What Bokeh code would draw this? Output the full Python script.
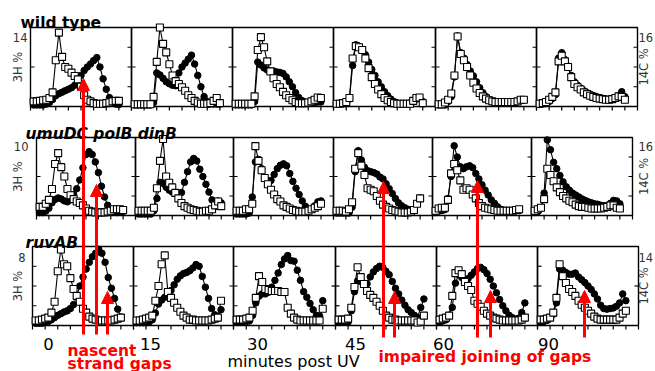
import math
from bokeh.plotting import figure
from bokeh.models import Range1d, Label, Arrow, NormalHead
from bokeh.embed import file_html
from bokeh.resources import INLINE

# ---------------- data ----------------
fractions = list(range(1, 29))
frac_ticks = list(range(0, 33, 4))
times = ["0", "15", "30", "45", "60", "90"]
strains = ["wild type", "umuDC polB dinB", "ruvAB"]
h3_max = [14, 10, 8]
c14_max = [16, 16, 14]
h3_ticks = [[7], [5], [2, 4, 6]]
c14_ticks = [[4, 8, 12], [4, 8, 12], [7]]

# wild type: 3H % (open squares) and 14C % (filled circles)
wt_h3_0 = [0.9, 0.9, 1.0, 1.1, 1.2, 1.5, 2.5, 8.2, 13.1, 8.8, 7.0, 6.7, 6.0, 5.4, 4.8, 3.5, 2.0, 1.2, 0.9, 0.6, 0.5, 0.5, 0.5, 0.6, 0.7, 0.9, 1.0, 1.0]
wt_c14_0 = [0.3, 0.3, 0.3, 0.3, 0.5, 0.8, 1.4, 2.2, 2.6, 2.9, 3.2, 3.5, 3.8, 4.3, 4.9, 6.3, 7.3, 8.0, 8.6, 9.3, 9.9, 8.0, 5.6, 3.5, 1.8, 0.9, 0.5, 0.4]
wt_h3_15 = [0.4, 0.4, 0.4, 0.4, 0.4, 0.4, 1.7, 7.9, 14.0, 11.1, 9.6, 7.5, 5.5, 4.5, 4.0, 3.4, 2.8, 2.0, 1.5, 1.0, 0.7, 0.5, 0.5, 0.5, 0.6, 1.0, 1.5, 0.6]
wt_c14_15 = [0.3, 0.3, 0.3, 0.3, 0.3, 0.3, 0.8, 6.8, 6.4, 5.7, 5.0, 4.6, 4.3, 4.2, 6.8, 8.0, 8.8, 9.6, 10.4, 8.6, 6.3, 4.0, 2.0, 1.0, 0.6, 0.5, 0.5, 0.5]
wt_h3_30 = [0.5, 0.5, 0.5, 0.5, 0.5, 0.5, 1.8, 10.0, 12.3, 10.5, 8.0, 6.2, 5.0, 4.0, 3.4, 2.6, 2.0, 1.5, 1.1, 0.8, 0.6, 0.6, 0.6, 0.7, 0.9, 1.2, 1.6, 1.5]
wt_c14_30 = [0.3, 0.3, 0.3, 0.3, 0.3, 0.3, 1.0, 9.0, 8.4, 7.8, 7.4, 7.2, 7.2, 7.0, 6.9, 6.7, 6.0, 5.0, 4.0, 2.8, 1.8, 1.2, 0.9, 0.8, 0.8, 0.8, 0.9, 0.9]
wt_h3_45 = [0.5, 0.5, 0.6, 0.8, 1.5, 8.5, 10.7, 10.5, 10.0, 8.5, 6.8, 5.2, 4.0, 3.0, 2.2, 1.5, 1.1, 0.8, 0.6, 0.5, 0.5, 0.5, 0.5, 0.5, 1.0, 1.5, 1.6, 0.6]
wt_c14_45 = [0.5, 0.5, 0.6, 0.8, 1.5, 8.3, 12.5, 12.2, 11.5, 10.5, 9.0, 7.5, 6.3, 5.0, 4.0, 3.0, 2.2, 1.5, 1.0, 0.7, 0.6, 0.6, 0.6, 0.7, 1.0, 1.5, 1.8, 1.0]
wt_h3_60 = [0.4, 0.4, 0.7, 1.2, 2.3, 5.5, 12.4, 9.3, 8.2, 7.0, 5.5, 4.2, 3.2, 2.4, 1.8, 1.4, 1.1, 0.9, 0.8, 0.8, 0.8, 0.8, 0.8, 0.8, 0.8, 0.9, 1.2, 1.2]
wt_c14_60 = [0.3, 0.3, 0.3, 1.0, 2.0, 6.0, 14.3, 10.9, 9.8, 8.5, 7.2, 6.2, 5.0, 3.8, 2.8, 2.0, 1.4, 1.0, 0.8, 0.7, 0.7, 0.7, 0.7, 0.7, 0.8, 1.0, 1.2, 1.3]
wt_h3_90 = [0.5, 0.6, 0.8, 1.2, 1.7, 2.5, 8.0, 9.0, 8.0, 7.0, 5.2, 4.0, 3.4, 3.0, 2.5, 2.2, 1.9, 1.7, 1.5, 1.4, 1.3, 1.2, 1.2, 1.3, 1.5, 1.8, 1.7, 1.2]
wt_c14_90 = [0.4, 0.6, 0.8, 1.0, 1.6, 2.4, 9.8, 10.9, 9.5, 8.2, 6.3, 5.0, 4.3, 3.7, 3.2, 2.8, 2.5, 2.2, 2.0, 1.8, 1.6, 1.5, 1.5, 1.6, 1.8, 2.2, 3.0, 2.0]

# umuDC polB dinB
umu_h3_0 = [1.1, 1.1, 1.5, 2.0, 3.4, 6.6, 8.0, 6.2, 5.0, 3.4, 2.6, 2.1, 1.8, 1.6, 1.3, 0.9, 0.6, 0.5, 0.4, 0.4, 0.4, 0.4, 0.5, 0.6, 0.8, 0.8, 0.8, 0.7]
umu_c14_0 = [0.6, 0.6, 0.9, 1.5, 2.6, 3.3, 3.6, 3.4, 3.0, 2.8, 3.3, 4.3, 5.5, 7.3, 9.8, 12.5, 13.1, 12.5, 11.0, 8.8, 6.0, 3.8, 2.1, 1.1, 0.7, 0.6, 0.8, 0.8]
umu_h3_15 = [0.6, 0.6, 0.6, 0.6, 0.6, 1.0, 3.5, 7.0, 9.8, 5.0, 4.2, 3.6, 2.9, 2.2, 1.6, 1.2, 1.0, 0.8, 0.7, 0.6, 0.5, 0.5, 0.6, 0.6, 0.8, 1.3, 1.8, 1.2]
umu_c14_15 = [0.3, 0.3, 0.3, 0.3, 0.3, 1.0, 3.5, 6.8, 6.6, 5.8, 5.2, 4.8, 4.5, 4.3, 4.7, 6.8, 9.0, 11.0, 11.7, 11.2, 9.5, 8.0, 6.4, 4.8, 3.2, 1.8, 3.0, 2.6]
umu_h3_30 = [0.6, 0.6, 0.6, 0.8, 0.8, 1.5, 8.9, 7.0, 5.8, 4.8, 4.0, 3.3, 2.7, 2.1, 1.8, 1.3, 1.1, 0.9, 0.7, 0.6, 0.5, 0.5, 0.5, 0.6, 0.8, 1.0, 1.2, 1.5]
umu_c14_30 = [0.3, 0.3, 0.3, 0.3, 0.5, 3.8, 11.0, 11.5, 9.6, 7.8, 6.8, 7.2, 8.4, 9.6, 10.3, 10.6, 10.2, 8.6, 7.0, 5.6, 4.3, 3.0, 1.9, 1.1, 1.3, 2.0, 2.8, 3.0]
umu_h3_45 = [0.6, 0.6, 0.6, 0.5, 0.8, 1.7, 6.0, 8.0, 6.4, 5.2, 3.5, 3.3, 3.1, 2.5, 1.9, 1.4, 1.1, 0.9, 0.7, 0.6, 0.5, 0.4, 0.4, 0.4, 0.5, 0.7, 1.5, 2.2]
umu_c14_45 = [0.5, 0.5, 0.5, 0.5, 0.5, 1.7, 9.0, 13.3, 11.4, 9.9, 9.2, 9.0, 8.8, 8.5, 7.9, 7.5, 6.5, 5.5, 4.5, 3.5, 2.6, 2.0, 1.6, 1.3, 1.1, 1.1, 2.5, 3.6]
umu_h3_60 = [0.6, 0.9, 1.0, 1.0, 2.0, 5.4, 6.6, 5.8, 4.5, 3.3, 3.5, 3.3, 2.7, 2.2, 1.6, 1.2, 1.0, 0.9, 0.8, 0.7, 0.6, 0.6, 0.6, 0.6, 0.6, 0.6, 0.7, 0.8]
umu_c14_60 = [0.6, 0.9, 1.0, 1.2, 3.5, 8.0, 14.3, 12.0, 10.0, 9.6, 10.0, 10.2, 9.8, 8.6, 7.5, 6.3, 5.2, 4.2, 3.2, 2.5, 1.8, 1.3, 1.1, 1.0, 1.0, 1.0, 1.0, 1.0]
umu_h3_90 = [0.6, 0.8, 1.0, 2.1, 6.0, 5.2, 4.4, 3.6, 3.0, 2.5, 2.2, 1.9, 1.7, 1.4, 1.2, 1.1, 1.1, 1.0, 0.9, 0.9, 0.9, 0.9, 1.0, 1.1, 1.3, 1.3, 1.0, 0.9]
umu_c14_90 = [0.6, 0.8, 1.5, 4.6, 15.5, 13.5, 10.9, 9.6, 8.2, 6.9, 5.9, 5.2, 4.6, 4.2, 3.8, 3.4, 3.1, 2.8, 2.6, 2.4, 2.3, 2.1, 2.0, 2.0, 2.5, 3.1, 3.0, 2.4]

# ruvAB
ruv_h3_0 = [0.5, 0.5, 0.6, 0.7, 0.8, 1.3, 2.4, 5.5, 7.7, 6.2, 6.0, 4.8, 3.7, 3.0, 2.4, 1.7, 1.3, 0.9, 0.7, 0.6, 0.5, 0.5, 0.5, 0.5, 0.5, 0.6, 0.7, 0.8]
ruv_c14_0 = [0.4, 0.4, 0.4, 0.5, 0.7, 1.0, 1.4, 1.8, 2.1, 2.4, 2.6, 3.0, 3.7, 5.2, 7.0, 8.6, 10.0, 11.2, 12.2, 12.8, 13.5, 12.8, 11.2, 8.5, 6.6, 4.8, 2.9, 1.5]
ruv_h3_15 = [0.5, 0.5, 0.6, 0.7, 0.8, 1.0, 2.5, 4.0, 6.2, 7.1, 3.4, 2.8, 2.3, 1.8, 1.4, 1.0, 0.8, 0.6, 0.6, 0.5, 0.5, 0.5, 0.5, 0.5, 0.6, 0.7, 0.8, 2.5]
ruv_c14_15 = [0.5, 0.5, 0.5, 0.5, 0.6, 1.0, 2.2, 3.8, 4.5, 5.0, 5.5, 6.2, 7.2, 8.2, 8.8, 9.2, 9.4, 9.7, 10.2, 10.8, 10.5, 8.7, 6.8, 4.8, 3.0, 1.9, 1.3, 2.8]
ruv_h3_30 = [0.6, 0.6, 0.6, 0.7, 0.8, 1.5, 2.8, 5.0, 4.4, 3.7, 3.6, 3.5, 3.5, 3.5, 3.4, 3.4, 1.8, 1.2, 0.8, 0.6, 0.5, 0.5, 0.5, 0.5, 0.5, 0.5, 0.5, 1.7]
ruv_c14_30 = [0.6, 0.6, 0.6, 0.7, 0.8, 1.8, 4.0, 5.2, 5.6, 5.6, 5.9, 6.8, 8.0, 9.3, 10.8, 11.8, 12.4, 11.5, 11.4, 9.8, 8.0, 6.0, 5.0, 3.9, 2.8, 1.8, 1.7, 4.4]
ruv_h3_45 = [0.6, 0.6, 0.6, 0.7, 1.8, 3.9, 5.9, 4.9, 4.2, 3.5, 3.1, 2.8, 2.4, 2.0, 1.5, 1.0, 0.8, 0.6, 0.6, 0.5, 0.5, 0.5, 0.5, 0.5, 0.5, 0.3, 0.4, 1.0]
ruv_c14_45 = [0.6, 0.6, 0.6, 0.6, 2.6, 6.0, 7.9, 7.8, 7.5, 7.4, 8.6, 9.5, 10.1, 10.5, 10.3, 9.6, 9.0, 7.8, 6.6, 5.6, 4.5, 3.6, 2.8, 2.3, 1.8, 1.4, 3.2, 4.7]
ruv_h3_60 = [0.6, 0.7, 0.8, 1.0, 3.0, 5.3, 5.6, 5.2, 4.4, 4.0, 3.6, 2.5, 2.2, 1.9, 1.5, 1.2, 1.0, 0.8, 0.7, 0.6, 0.5, 0.5, 0.5, 0.5, 0.5, 0.5, 0.6, 0.8]
ruv_c14_60 = [0.6, 0.8, 1.0, 1.8, 3.2, 7.5, 9.0, 8.5, 7.9, 8.3, 8.9, 9.5, 10.1, 10.3, 9.9, 9.2, 8.2, 7.0, 5.8, 4.6, 3.5, 2.6, 1.8, 1.4, 1.1, 1.3, 2.3, 4.0]
ruv_h3_90 = [0.6, 0.6, 0.7, 0.8, 1.3, 2.8, 6.2, 5.0, 4.3, 3.7, 3.4, 3.0, 2.5, 2.1, 1.8, 1.5, 1.2, 0.9, 0.7, 0.6, 0.6, 0.6, 0.6, 0.6, 0.6, 0.8, 1.2, 1.5]
ruv_c14_90 = [0.6, 0.7, 0.9, 1.4, 2.0, 4.0, 10.0, 9.8, 9.4, 9.1, 9.1, 9.3, 8.6, 8.1, 7.6, 7.0, 6.4, 5.6, 4.7, 3.6, 3.0, 2.9, 3.0, 3.1, 3.4, 4.0, 5.6, 4.4]

h3_rows = [
    [wt_h3_0, wt_h3_15, wt_h3_30, wt_h3_45, wt_h3_60, wt_h3_90],
    [umu_h3_0, umu_h3_15, umu_h3_30, umu_h3_45, umu_h3_60, umu_h3_90],
    [ruv_h3_0, ruv_h3_15, ruv_h3_30, ruv_h3_45, ruv_h3_60, ruv_h3_90],
]
c14_rows = [
    [wt_c14_0, wt_c14_15, wt_c14_30, wt_c14_45, wt_c14_60, wt_c14_90],
    [umu_c14_0, umu_c14_15, umu_c14_30, umu_c14_45, umu_c14_60, umu_c14_90],
    [ruv_c14_0, ruv_c14_15, ruv_c14_30, ruv_c14_45, ruv_c14_60, ruv_c14_90],
]

# ---------------- layout (page pixels) ----------------
W, H = 655, 371
OFF = 0
row_top = [27, 137, 246]
row_bot = [106, 215, 325]
col_edges = [
    [30, 131, 232, 333, 435, 536, 637],
    [36, 135, 233, 333, 432, 531, 632],
    [32, 133, 233, 335, 436, 537, 638],
]
FR_SPAN = 32.0
FONT = "DejaVu Sans"
RED = "#ff0000"
GREY = "#333333"

p = figure(width=W, height=H, output_backend="svg", toolbar_location=None,
           x_range=Range1d(OFF, OFF + W), y_range=Range1d(OFF + H, OFF),
           min_border=0, background_fill_color="white", border_fill_color="white")
p.axis.visible = False
p.grid.visible = False
p.outline_line_color = None

extra_x = {}
extra_y = {}
for r in range(3):
    y0, y1 = row_top[r], row_bot[r]
    for key, vmax in (("h", h3_max[r]), ("c", c14_max[r])):
        s = (y1 - y0) / vmax
        extra_y[f"{key}{r}"] = Range1d((y1 - (OFF + H)) / s, (y1 - OFF) / s)
    for c in range(6):
        x0, x1 = col_edges[r][c], col_edges[r][c + 1]
        s = (x1 - x0) / FR_SPAN
        extra_x[f"x{r}{c}"] = Range1d((OFF - x0) / s, (OFF + W - x0) / s)
p.extra_x_ranges = extra_x
p.extra_y_ranges = extra_y

TICK = 4.0
for r in range(3):
    sy = (row_bot[r] - row_top[r]) / h3_max[r]
    for c in range(6):
        xn = f"x{r}{c}"
        sx = (col_edges[r][c + 1] - col_edges[r][c]) / FR_SPAN
        # panel frame
        p.quad(left=[0], right=[FR_SPAN], bottom=[0], top=[h3_max[r]],
               fill_color=None, line_color="black", line_width=1.4,
               x_range_name=xn, y_range_name=f"h{r}")
        # bottom ticks (outward)
        p.segment(x0=frac_ticks, x1=frac_ticks, y0=[0] * len(frac_ticks),
                  y1=[-TICK / sy] * len(frac_ticks), line_color="black", line_width=1.2,
                  x_range_name=xn, y_range_name=f"h{r}")
        # left ticks (3H), inward
        p.segment(x0=[0] * len(h3_ticks[r]), x1=[TICK / sx] * len(h3_ticks[r]),
                  y0=h3_ticks[r], y1=h3_ticks[r], line_color="black", line_width=1.2,
                  x_range_name=xn, y_range_name=f"h{r}")
        # right ticks (14C), inward
        p.segment(x0=[FR_SPAN] * len(c14_ticks[r]), x1=[FR_SPAN - TICK / sx] * len(c14_ticks[r]),
                  y0=c14_ticks[r], y1=c14_ticks[r], line_color="black", line_width=1.2,
                  x_range_name=xn, y_range_name=f"c{r}")
        # 14C: filled circles
        p.line(fractions, c14_rows[r][c], line_color="black", line_width=1.1,
               x_range_name=xn, y_range_name=f"c{r}")
        p.scatter(fractions, c14_rows[r][c], marker="circle", size=6.5,
                  fill_color="black", line_color="black",
                  x_range_name=xn, y_range_name=f"c{r}")
        # 3H: open squares
        p.line(fractions, h3_rows[r][c], line_color="black", line_width=1.1,
               x_range_name=xn, y_range_name=f"h{r}")
        p.scatter(fractions, h3_rows[r][c], marker="square", size=7,
                  fill_color="white", line_color="black", line_width=1.1,
                  x_range_name=xn, y_range_name=f"h{r}")

# ---------------- texts ----------------
def lab(x, y, text, size, style="normal", color="black", align="left", baseline="alphabetic", angle=0.0):
    p.add_layout(Label(x=x, y=y, text=text, text_font=FONT, text_font_size=size,
                       text_font_style=style, text_color=color, text_align=align,
                       text_baseline=baseline, angle=angle))

title_pos = [(20, 22), (25, 133), (25, 242)]
for r in range(3):
    st = "bold" if r == 0 else "bold italic"
    lab(title_pos[r][0], title_pos[r][1], strains[r], "15.5px", style=st)

left_lab_x = [27, 28, 25]
lab_base = [37, 146, 257]
for r in range(3):
    lab(left_lab_x[r], lab_base[r], str(h3_max[r]), "11.5px", color=GREY, align="right")
    lab(638, lab_base[r], str(c14_max[r]), "11.5px", color=GREY)
    yc = (row_top[r] + row_bot[r]) / 2
    lab(17.5, yc, "3H %", "11.5px", color=GREY, align="center", baseline="middle", angle=math.pi / 2)
    lab(643.5, yc, "14C %", "11.5px", color=GREY, align="center", baseline="middle", angle=math.pi / 2)

time_x = [48, 150, 257, 355, 443, 548]
for t, tx in zip(times, time_x):
    lab(tx, 343, t, "16.5px", align="center")
lab(227, 361, "minutes post UV", "16px")

lab(67, 350, "nascent", "15.5px", style="bold", color=RED)
lab(67, 363, "strand gaps", "15.5px", style="bold", color=RED)
lab(378, 356, "impaired joining of gaps", "15.5px", style="bold", color=RED)

# ---------------- red arrows ----------------
arrows = [(83, 78, 334), (96, 184, 334), (107, 291, 334),
          (383, 181, 337), (394, 291, 337), (477, 180, 337),
          (490, 290, 337), (584, 290, 337)]
for ax, tip, base in arrows:
    p.add_layout(Arrow(end=NormalHead(size=12, fill_color=RED, line_color=RED, line_width=1),
                       x_start=ax, y_start=base, x_end=ax, y_end=tip,
                       line_color=RED, line_width=3))

open("out.html", "w").write(file_html(p, INLINE))
